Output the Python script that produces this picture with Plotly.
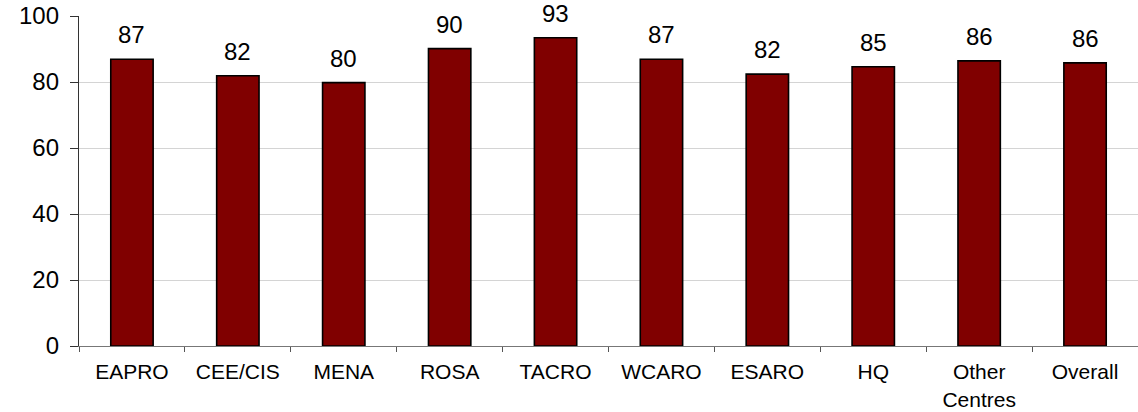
import plotly.graph_objects as go

categories = ["EAPRO", "CEE/CIS", "MENA", "ROSA", "TACRO", "WCARO", "ESARO", "HQ",
              "Other<br>Centres", "Overall"]
values = [86.9, 81.9, 79.8, 90.1, 93.4, 86.9, 82.4, 84.6, 86.4, 85.8]
y_ticks = [0, 20, 40, 60, 80, 100]

FONT = "Liberation Sans, Arial, sans-serif"

fig = go.Figure()
fig.add_trace(go.Bar(
    x=categories, y=values,
    marker=dict(color="#800000", line=dict(color="#000000", width=1.6)),
    width=0.4,
    hoverinfo="skip",
))

for c, v in zip(categories, values):
    fig.add_annotation(x=c, y=v, text=f"{v:.0f}", showarrow=False,
                       yanchor="bottom", yshift=9,
                       font=dict(family=FONT, size=24, color="#000000"))

fig.update_layout(
    width=1138, height=412,
    margin=dict(l=79, r=0, t=16, b=66),
    paper_bgcolor="#ffffff", plot_bgcolor="#ffffff",
    showlegend=False,
    font=dict(family=FONT, color="#000000"),
)
fig.update_yaxes(
    range=[0, 100], tickvals=y_ticks, ticktext=[str(t) for t in y_ticks],
    showgrid=True, gridcolor="#d4d4d4", gridwidth=1,
    showline=True, linecolor="#333333", linewidth=1.3,
    ticks="outside", ticklen=8, tickcolor="#333333",
    tickfont=dict(family=FONT, size=24, color="#000000"),
    ticklabelstandoff=6,
    zeroline=False,
)
fig.update_xaxes(
    type="category", range=[-0.5, 9.5],
    showline=True, linecolor="#777777", linewidth=1.3,
    ticks="outside", ticklen=5, tickcolor="#555555", tickson="boundaries",
    tickfont=dict(family=FONT, size=21, color="#000000"),
    ticklabelstandoff=7,
    showgrid=False,
)

fig.write_html("out.html")
